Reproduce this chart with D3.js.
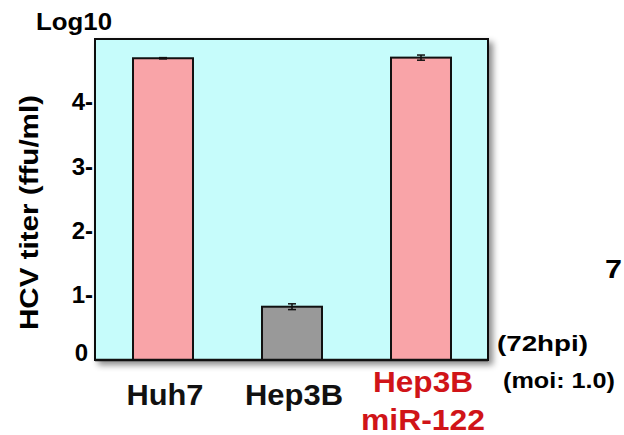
<!DOCTYPE html>
<html>
<head>
<meta charset="utf-8">
<script src="https://cdn.jsdelivr.net/npm/d3@7"></script>
<style>
  body { margin: 0; background: #fff; }
  text { font-family: "Liberation Sans", Arial, sans-serif; font-weight: bold; }
</style>
</head>
<body>
<svg id="chart" width="624" height="435"></svg>
<script>
const categories = ['Huh7', 'Hep3B', 'Hep3B miR-122'];
const titers = [4.70, 0.83, 4.71];
const errors = [0.01, 0.045, 0.04];
const barColors = ['#f9a4a8', '#999999', '#f9a4a8'];
const yTicks = [0, 1, 2, 3, 4];

const width = 624;
const height = 435;
const plot = { left: 95, right: 488, top: 39, bottom: 360 };

const svg = d3.select('#chart');

const xScale = d3.scaleBand()
  .domain(categories)
  .range([98.5, 485.5])
  .paddingInner(0.535)
  .paddingOuter(0.2675);

const yScale = d3.scaleLinear()
  .domain([0, 5])
  .range([plot.bottom, plot.top]);

// drop shadow behind the plot area
const defs = svg.append('defs');
const shadow = defs.append('filter')
  .attr('id', 'shadow')
  .attr('x', '-5%').attr('y', '-5%')
  .attr('width', '115%').attr('height', '115%');
shadow.append('feDropShadow')
  .attr('dx', 4).attr('dy', 4)
  .attr('stdDeviation', 3)
  .attr('flood-color', '#000')
  .attr('flood-opacity', 0.45);

svg.append('rect')
  .attr('x', plot.left)
  .attr('y', yScale(5))
  .attr('width', plot.right - plot.left)
  .attr('height', yScale(0) - yScale(5))
  .attr('fill', '#c6fcfb')
  .attr('stroke', '#111')
  .attr('stroke-width', 2)
  .attr('filter', 'url(#shadow)');

const data = categories.map((c, i) => ({ name: c, value: titers[i], err: errors[i], color: barColors[i] }));

svg.selectAll('rect.bar')
  .data(data)
  .enter()
  .append('rect')
  .attr('class', 'bar')
  .attr('x', d => xScale(d.name))
  .attr('y', d => yScale(d.value))
  .attr('width', xScale.bandwidth())
  .attr('height', d => yScale(0) - yScale(d.value))
  .attr('fill', d => d.color)
  .attr('stroke', '#111')
  .attr('stroke-width', 2);

// error bars
const eb = svg.selectAll('g.err')
  .data(data)
  .enter()
  .append('g')
  .attr('class', 'err')
  .attr('stroke', '#111')
  .attr('stroke-width', 1.5);

const cx = d => xScale(d.name) + xScale.bandwidth() / 2;

eb.append('line')
  .attr('x1', cx).attr('x2', cx)
  .attr('y1', d => yScale(d.value + d.err))
  .attr('y2', d => yScale(d.value - d.err));
eb.append('line')
  .attr('x1', d => cx(d) - 4).attr('x2', d => cx(d) + 4)
  .attr('y1', d => yScale(d.value + d.err))
  .attr('y2', d => yScale(d.value + d.err));
eb.append('line')
  .attr('x1', d => cx(d) - 4).attr('x2', d => cx(d) + 4)
  .attr('y1', d => yScale(d.value - d.err))
  .attr('y2', d => yScale(d.value - d.err));

// redraw the baseline over the bar bottoms
svg.append('line')
  .attr('x1', plot.left).attr('x2', plot.right)
  .attr('y1', yScale(0)).attr('y2', yScale(0))
  .attr('stroke', '#111')
  .attr('stroke-width', 2.5);

// y tick labels
svg.selectAll('text.ytick')
  .data(yTicks)
  .enter()
  .append('text')
  .attr('class', 'ytick')
  .attr('x', d => d === 0 ? 88 : 93)
  .attr('y', d => yScale(d))
  .attr('dy', d => d === 0 ? '0.05em' : '0.3em')
  .attr('text-anchor', 'end')
  .attr('font-size', 24)
  .text(d => d === 0 ? '0' : d + '-');

svg.append('text')
  .attr('x', 36)
  .attr('y', 30)
  .attr('font-size', 23)
  .attr('textLength', 76)
  .attr('lengthAdjust', 'spacingAndGlyphs')
  .text('Log10');

svg.append('text')
  .attr('transform', 'translate(38,212.5) rotate(-90)')
  .attr('text-anchor', 'middle')
  .attr('font-size', 26)
  .attr('textLength', 235)
  .attr('lengthAdjust', 'spacingAndGlyphs')
  .text('HCV titer (ffu/ml)');

// category labels
const labelLines = [
  [{ t: 'Huh7', w: 77, y: 405, c: '#111' }],
  [{ t: 'Hep3B', w: 98, y: 405, c: '#111' }],
  [{ t: 'Hep3B', w: 100, y: 392, c: '#d01418' }, { t: 'miR-122', w: 124, y: 430, c: '#d01418' }]
];

categories.forEach((c, i) => {
  labelLines[i].forEach(l => {
    svg.append('text')
      .attr('x', xScale(c) + xScale.bandwidth() / 2 + 2)
      .attr('y', l.y)
      .attr('text-anchor', 'middle')
      .attr('font-size', 29)
      .attr('fill', l.c)
      .attr('textLength', l.w)
      .attr('lengthAdjust', 'spacingAndGlyphs')
      .text(l.t);
  });
});

svg.append('text')
  .attr('x', 497).attr('y', 351)
  .attr('font-size', 22)
  .attr('textLength', 91)
  .attr('lengthAdjust', 'spacingAndGlyphs')
  .text('(72hpi)');

svg.append('text')
  .attr('x', 503).attr('y', 388)
  .attr('font-size', 22)
  .attr('textLength', 112)
  .attr('lengthAdjust', 'spacingAndGlyphs')
  .text('(moi: 1.0)');

svg.append('text')
  .attr('x', 605).attr('y', 278)
  .attr('font-size', 26)
  .attr('textLength', 17)
  .attr('lengthAdjust', 'spacingAndGlyphs')
  .text('7');
</script>
</body>
</html>
